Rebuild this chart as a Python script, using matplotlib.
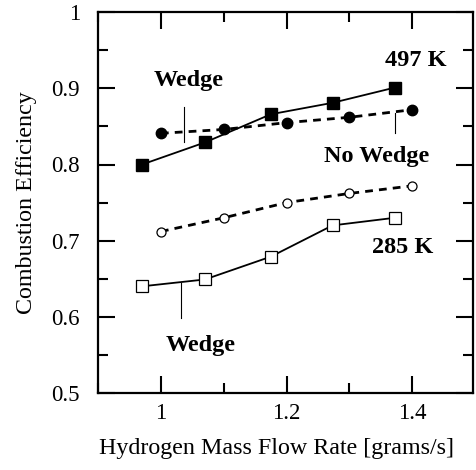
import matplotlib
matplotlib.use("Agg")
import matplotlib.pyplot as plt
from matplotlib.ticker import MultipleLocator

plt.rcParams["font.family"] = ["Liberation Serif", "DejaVu Serif"]

# hydrogen mass flow rate [grams/s] and combustion efficiency
flow_sq = [0.97, 1.07, 1.175, 1.273, 1.372]
flow_circ = [1.0, 1.1, 1.2, 1.3, 1.4]
eff_497_wedge = [0.800, 0.829, 0.866, 0.881, 0.901]
eff_497_nowedge = [0.841, 0.846, 0.855, 0.862, 0.872]
eff_285_nowedge = [0.712, 0.730, 0.750, 0.762, 0.772]
eff_285_wedge = [0.640, 0.649, 0.679, 0.720, 0.730]

fig = plt.figure(figsize=(4.76, 4.70), dpi=100)
ax = fig.add_axes([0.206, 0.164, 0.787, 0.81])

ax.plot(flow_sq, eff_497_wedge, "-", color="black", lw=1.3,
        marker="s", ms=9, mfc="black", mec="black", zorder=3)
ax.plot(flow_circ, eff_497_nowedge, color="black", lw=2.0, dashes=(2.8, 2.2),
        marker="o", ms=7.5, mfc="black", mec="black", zorder=3)
ax.plot(flow_circ, eff_285_nowedge, color="black", lw=2.0, dashes=(2.8, 2.2),
        marker="o", ms=6.5, mfc="white", mec="black", mew=0.9, zorder=3)
ax.plot(flow_sq, eff_285_wedge, "-", color="black", lw=1.3,
        marker="s", ms=8, mfc="white", mec="black", mew=0.9, zorder=3)

# labels with pointer lines
bold = dict(fontsize=17.5, fontweight="bold", color="black")
ax.text(1.405, 0.937, "497 K", ha="center", va="center", **bold)
ax.text(1.044, 0.910, "Wedge", ha="center", va="center", **bold)
ax.plot([1.037, 1.037], [0.829, 0.875], color="black", lw=0.8)
ax.text(1.343, 0.810, "No Wedge", ha="center", va="center", **bold)
ax.plot([1.373, 1.373], [0.841, 0.868], color="black", lw=0.8)
ax.text(1.384, 0.691, "285 K", ha="center", va="center", **bold)
ax.text(1.064, 0.562, "Wedge", ha="center", va="center", **bold)
ax.plot([1.032, 1.032], [0.599, 0.645], color="black", lw=0.8)

ax.set_xlim(0.9, 1.496)
ax.set_ylim(0.5, 1.0)
ax.set_xticks([1.0, 1.2, 1.4])
ax.set_xticklabels(["1", "1.2", "1.4"])
ax.set_yticks([0.5, 0.6, 0.7, 0.8, 0.9, 1.0])
ax.set_yticklabels(["0.5", "0.6", "0.7", "0.8", "0.9", "1"])
ax.xaxis.set_minor_locator(MultipleLocator(0.1))
ax.yaxis.set_minor_locator(MultipleLocator(0.05))
ax.tick_params(which="both", direction="in", top=True, right=True,
               labelsize=16.5, width=1.5)
ax.tick_params(axis="x", which="both", pad=7)
ax.tick_params(axis="y", which="both", pad=13)
ax.tick_params(which="major", length=12)
ax.tick_params(which="minor", length=7)
for s in ax.spines.values():
    s.set_linewidth(1.6)

ax.set_xlabel("Hydrogen Mass Flow Rate [grams/s]", fontsize=17.3)
ax.xaxis.set_label_coords(0.476, -0.118)
ax.set_ylabel("Combustion Efficiency", fontsize=17.3)
ax.yaxis.set_label_coords(-0.163, 0.5)

fig.savefig("out.png", dpi=100)
